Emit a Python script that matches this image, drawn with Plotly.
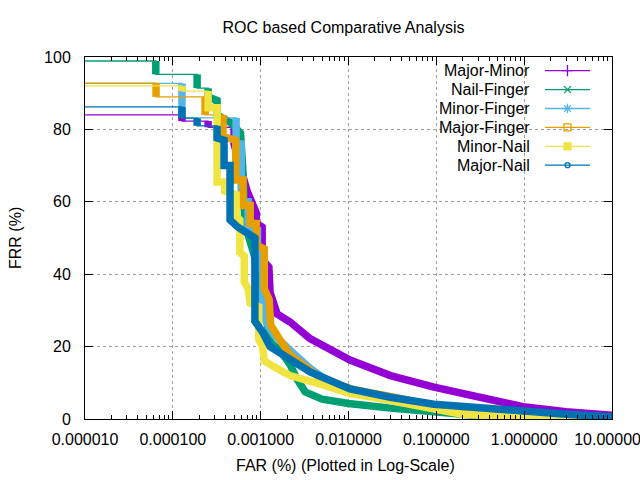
import math
import plotly.graph_objects as go

# ---------------- data (FAR in %, FRR in %) ----------------
series_names = ["Major-Minor", "Nail-Finger", "Minor-Finger", "Major-Finger", "Minor-Nail", "Major-Nail"]

major_minor_far = [1e-5, 1.27e-4, 1.27e-4, 2.52e-4, 2.52e-4, 4.98e-4, 4.98e-4, 7.0e-4, 7.6e-4, 8.9e-4, 8.9e-4,
                   1.04e-3, 1.04e-3, 1.24e-3, 1.28e-3, 1.54e-3, 2.16e-3, 3.65e-3, 1.04e-2, 3.0e-2, 9.4e-2,
                   0.24, 0.97, 3.0, 10.0]
major_minor_frr = [84.0, 84.0, 82.3, 82.3, 80.6, 80.6, 76.0, 63.0, 61.0, 57.0, 54.0,
                   53.0, 44.0, 42.0, 35.0, 29.0, 26.8, 22.2, 16.3, 12.0, 8.8,
                   6.6, 3.4, 2.0, 1.0]

nail_finger_far = [1e-5, 6.4e-5, 6.4e-5, 1.89e-4, 1.89e-4, 2.52e-4, 2.52e-4, 3.19e-4, 3.19e-4, 4.5e-4,
                   5.9e-4, 6.3e-4, 6.6e-4, 8.5e-4, 9.8e-4, 1.15e-3, 1.3e-3, 1.66e-3, 2.16e-3, 2.6e-3,
                   3.2e-3, 5.0e-3, 1.0e-2, 3.0e-2, 9.4e-2, 0.25, 1.0, 10.0]
nail_finger_frr = [98.9, 98.9, 95.2, 95.2, 91.4, 91.4, 89.0, 88.0, 84.0, 82.0,
                   79.0, 68.0, 54.0, 45.0, 35.0, 28.0, 21.0, 19.0, 15.0, 11.0,
                   7.5, 5.5, 4.3, 3.0, 1.9, 1.1, 0.6, 0.3]

minor_finger_far = [1e-5, 1.27e-4, 1.27e-4, 5.25e-4, 5.25e-4, 6.0e-4, 6.0e-4, 7.2e-4, 7.2e-4, 9.2e-4,
                    9.2e-4, 1.05e-3, 1.05e-3, 1.2e-3, 1.45e-3, 2.16e-3, 2.8e-3, 3.65e-3, 6.2e-3, 1.04e-2,
                    3.0e-2, 9.4e-2, 0.3, 0.9, 10.0]
minor_finger_frr = [92.7, 92.7, 83.2, 83.2, 76.0, 76.0, 60.0, 60.0, 52.0, 52.0,
                    42.0, 41.0, 29.0, 26.0, 23.0, 19.0, 16.5, 14.0, 10.0, 7.6,
                    5.0, 3.2, 1.5, 0.3, 0.0]

major_finger_far = [1e-5, 6.44e-5, 6.44e-5, 2.33e-4, 2.33e-4, 3.73e-4, 3.73e-4, 5.2e-4, 5.2e-4, 6.3e-4,
                    6.3e-4, 7.6e-4, 7.6e-4, 8.9e-4, 8.9e-4, 1.1e-3, 1.1e-3, 1.25e-3, 1.3e-3, 1.55e-3,
                    2.16e-3, 5.1e-3, 1.2e-2, 3.9e-2, 9.4e-2, 0.3, 1.0, 10.0]
major_finger_frr = [92.8, 92.8, 89.0, 89.0, 84.0, 84.0, 78.0, 77.0, 66.0, 66.0,
                    59.0, 59.0, 54.0, 54.0, 48.0, 47.0, 36.0, 33.0, 26.0, 23.0,
                    17.7, 10.8, 8.0, 5.7, 3.5, 1.0, 0.2, 0.0]

minor_nail_far = [1e-5, 1.27e-4, 1.27e-4, 2.52e-4, 2.52e-4, 3.19e-4, 3.19e-4, 3.9e-4, 3.9e-4, 5.25e-4,
                  5.25e-4, 5.8e-4, 5.8e-4, 6.5e-4, 6.5e-4, 7.2e-4, 7.6e-4, 9.5e-4, 9.5e-4, 1.05e-3,
                  1.1e-3, 1.4e-3, 2.16e-3, 5.0e-3, 1.04e-2, 1.9e-2, 9.4e-2, 0.19, 0.9, 10.0]
minor_nail_frr = [92.0, 92.0, 90.6, 90.6, 86.0, 86.0, 65.5, 65.5, 63.0, 62.0,
                  56.0, 55.0, 46.0, 45.0, 38.0, 36.0, 32.0, 31.0, 22.0, 20.0,
                  16.0, 14.5, 12.0, 9.5, 7.0, 6.0, 2.7, 1.4, 0.3, 0.0]

major_nail_far = [1e-5, 1.27e-4, 1.27e-4, 1.89e-4, 1.89e-4, 3.19e-4, 3.19e-4, 3.83e-4, 3.83e-4, 4.48e-4,
                  4.48e-4, 5.5e-4, 7.6e-4, 8.6e-4, 8.6e-4, 1.05e-3, 1.28e-3, 2.16e-3, 3.65e-3, 1.04e-2,
                  3.0e-2, 9.4e-2, 0.3, 1.0, 3.0, 10.0]
major_nail_frr = [86.2, 86.2, 83.1, 83.1, 81.0, 81.0, 77.6, 77.0, 70.0, 70.0,
                  55.0, 53.0, 51.0, 50.0, 27.0, 24.0, 20.0, 16.3, 13.0, 8.3,
                  6.0, 4.1, 3.0, 2.1, 1.3, 0.6]

series_far = [major_minor_far, nail_finger_far, minor_finger_far, major_finger_far, minor_nail_far, major_nail_far]
series_frr = [major_minor_frr, nail_finger_frr, minor_finger_frr, major_finger_frr, minor_nail_frr, major_nail_frr]

x_tick_vals = [1e-5, 1e-4, 1e-3, 1e-2, 1e-1, 1, 10]
x_tick_labels = ["0.000010", "0.000100", "0.001000", "0.010000", "0.100000", "1.000000", "10.000000"]
y_tick_vals = [0, 20, 40, 60, 80, 100]

# ---------------- styles ----------------
colors = ["#9400d3", "#009e73", "#56b4e9", "#e69f00", "#f0e442", "#0072b2"]
symbols = ["cross-thin", "x-thin", "asterisk", "square-open", "square", "circle-open"]
symbol_sizes = [8, 7, 8, 7, 7, 5]
FONT = "Liberation Sans, Arial, sans-serif"

fig = go.Figure()


def thick_path(far, frr):
    """Segments drawn heavy (dense point clusters); long flat jumps stay thin."""
    xs, ys = [], []
    for i in range(len(far) - 1):
        flat = frr[i] == frr[i + 1] and abs(math.log10(far[i + 1] / far[i])) > 0.12
        if flat:
            continue
        if xs and xs[-1] == far[i] and ys[-1] == frr[i]:
            xs.append(far[i + 1]); ys.append(frr[i + 1])
        else:
            if xs:
                xs.append(None); ys.append(None)
            xs += [far[i], far[i + 1]]; ys += [frr[i], frr[i + 1]]
    return xs, ys


for name, far, frr, col in zip(series_names, series_far, series_frr, colors):
    fig.add_trace(go.Scatter(x=far, y=frr, mode="lines", name=name, showlegend=False,
                             line=dict(color=col, width=1.3), hoverinfo="skip"))
    tx, ty = thick_path(far, frr)
    fig.add_trace(go.Scatter(x=tx, y=ty, mode="lines", name=name, showlegend=False,
                             line=dict(color=col, width=7.5), connectgaps=False))

# ---------------- manual gnuplot-style key ----------------
L, R, T, B = 85, 28, 57, 61
W, H = 640, 480
pw, ph = W - L - R, H - T - B


def px_x(p):
    return (p - L) / pw


def px_y(p):
    return (H - B - p) / ph


key_rows = [70.7 + 18.9 * i for i in range(len(series_names))]
for i, (name, col, sym, ms) in enumerate(zip(series_names, colors, symbols, symbol_sizes)):
    yy = px_y(key_rows[i])
    fig.add_trace(go.Scatter(x=[px_x(545), px_x(590)], y=[yy, yy], mode="lines",
                             line=dict(color=col, width=1.3), xaxis="x2", yaxis="y2",
                             showlegend=False, hoverinfo="skip"))
    fig.add_trace(go.Scatter(x=[px_x(567.5)], y=[yy], mode="markers",
                             marker=dict(symbol=sym, size=ms, color=col,
                                         line=dict(color=col, width=1.3)),
                             xaxis="x2", yaxis="y2", showlegend=False, hoverinfo="skip"))
    fig.add_annotation(x=px_x(532), y=yy, xref="paper", yref="paper", text=name,
                       showarrow=False, xanchor="right", yanchor="middle",
                       font=dict(family=FONT, size=16, color="#000"))

# white key box hides grid behind key
fig.add_shape(type="rect", xref="paper", yref="paper", x0=px_x(413), x1=px_x(593),
              y0=px_y(175), y1=1, fillcolor="white", line=dict(width=0), layer="between")

fig.add_annotation(x=px_x(345), y=px_y(465), xref="paper", yref="paper",
                   text="FAR (%) (Plotted in Log-Scale)", showarrow=False,
                   xanchor="center", yanchor="middle", font=dict(family=FONT, size=16, color="#000"))
fig.add_annotation(x=px_x(15), y=px_y(238), xref="paper", yref="paper",
                   text="FRR (%)", showarrow=False, textangle=-90,
                   xanchor="center", yanchor="middle", font=dict(family=FONT, size=16, color="#000"))

axis_common = dict(showline=True, linecolor="black", linewidth=1, mirror="ticks",
                   ticks="inside", ticklen=8, tickcolor="black", tickwidth=1,
                   showgrid=True, gridcolor="#a0a0a0", griddash="dot", gridwidth=1,
                   zeroline=False, ticklabeloverflow="allow", automargin=False,
                   tickfont=dict(family=FONT, size=16, color="#000"))

fig.update_layout(
    width=W, height=H,
    margin=dict(l=L, r=R, t=T, b=B, autoexpand=False),
    paper_bgcolor="white", plot_bgcolor="white",
    title=dict(text="ROC based Comparative Analysis", x=px_x(343.5), xref="paper",
               y=1 - 27 / H, yref="container", xanchor="center", yanchor="middle",
               font=dict(family=FONT, size=16, color="#000")),
    xaxis=dict(type="log", range=[-5, 1], tickmode="array", tickvals=x_tick_vals,
               ticktext=x_tick_labels, ticklabelstandoff=6,
               minor=dict(ticks="inside", ticklen=4, tickcolor="black", dtick="D1", showgrid=False),
               **axis_common),
    yaxis=dict(range=[0, 100], tickmode="array", tickvals=y_tick_vals, ticklabelstandoff=10,
               **axis_common),
    xaxis2=dict(overlaying="x", range=[0, 1], visible=False, fixedrange=True),
    yaxis2=dict(overlaying="y", range=[0, 1], visible=False, fixedrange=True),
    showlegend=False,
)

fig.write_html("out.html")
